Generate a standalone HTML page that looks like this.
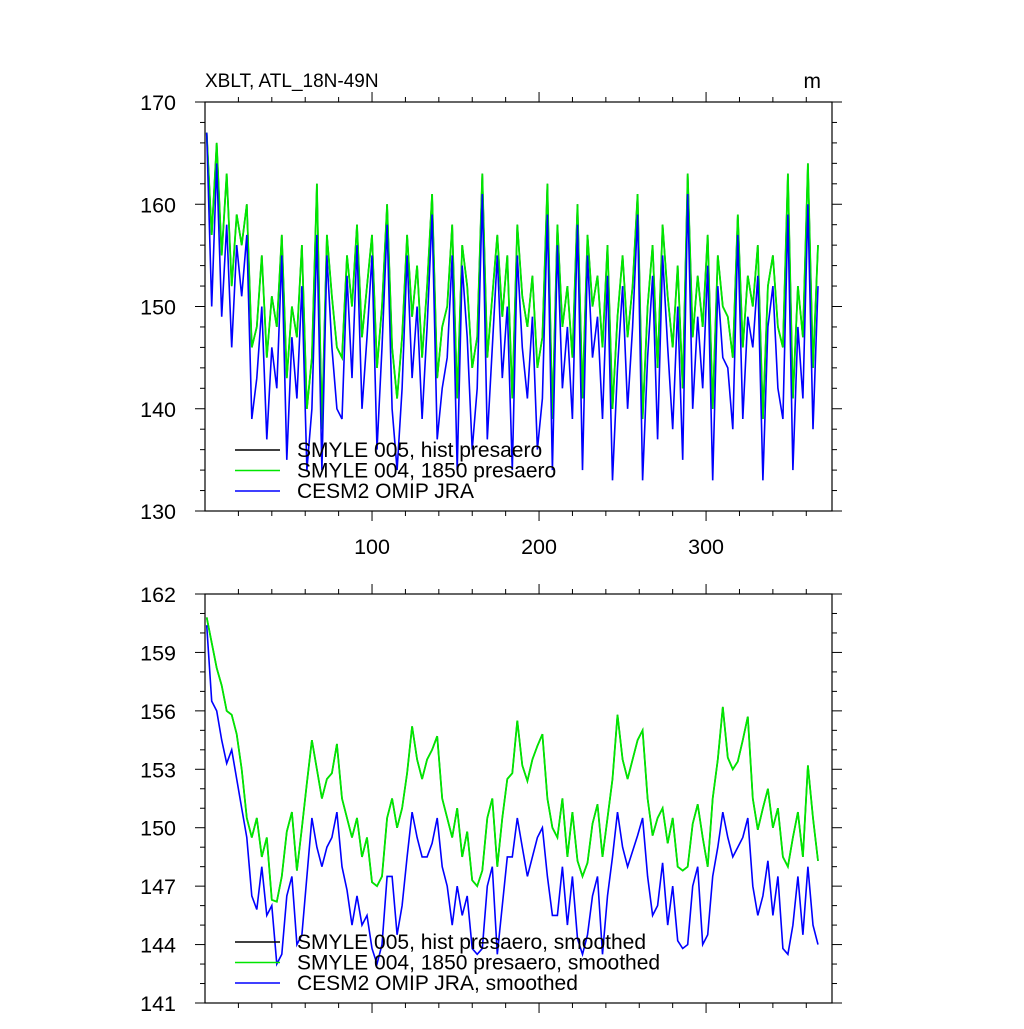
<!DOCTYPE html>
<html><head><meta charset="utf-8"><style>
body{margin:0;background:#fff}
svg text{font-family:"Liberation Sans",sans-serif;fill:#000}
</style></head><body>
<svg id="c" width="1024" height="1024" viewBox="0 0 1024 1024"></svg>
<script>
const xTicks=[100,200,300];
const topYTicks=[130,140,150,160,170];
const botYTicks=[141,144,147,150,153,156,159,162];
const topGreen=[167,157,166,155,163,152,159,156,160,146,148,155,145,151,148,157,143,150,147,156,140,145,162,138,157,151,146,145,155,150,158,147,152,157,144,150,160,146,141,147,157,149,154,145,152,161,143,148,150,158,141,156,152,144,147,163,145,151,157,149,155,141,158,151,148,153,144,147,162,139,158,148,152,145,160,141,157,150,153,146,156,140,149,155,147,152,161,139,150,156,144,158,151,146,154,142,163,147,153,148,157,140,155,150,149,145,159,146,153,150,156,139,152,155,148,146,163,141,152,147,164,144,156];
const topBlue=[167,150,164,149,158,146,156,151,157,139,143,150,137,146,142,155,135,147,141,152,134,140,157,134,155,146,140,139,153,143,156,140,147,155,136,146,158,140,134,142,155,143,150,139,148,159,137,142,145,155,134,154,147,136,142,161,137,146,155,143,150,134,155,146,141,149,136,141,159,134,156,142,148,139,158,134,155,145,149,139,153,133,144,152,140,148,159,133,145,153,137,155,146,138,150,135,161,140,149,142,154,133,152,145,144,138,157,139,149,146,153,133,148,152,142,139,159,134,148,141,160,138,152];
const botGreen=[160.8,159.5,158.2,157.3,156,155.8,154.8,153,150.5,149.5,150.5,148.5,149.5,146.3,146.2,147.5,149.8,150.8,147.8,150,152.3,154.5,153,151.5,152.5,152.8,154.3,151.5,150.5,149.5,150.5,148.5,149.5,147.2,147,147.5,150.5,151.5,150,151,152.8,155.2,153.5,152.5,153.5,154,154.7,151.5,150.5,149.5,151,148.5,149.8,147.3,147,147.8,150.5,151.5,148,150.5,152.5,152.8,155.5,153.2,152.4,153.5,154.2,154.8,151.5,150,149.5,151.5,148.5,150.8,148.3,147.5,148.2,150.2,151.2,148.5,150.5,152.5,155.8,153.5,152.5,153.5,154.5,155,151.5,149.6,150.5,151,149.2,150.5,148,147.8,148,150.2,151.2,149.5,148,151.5,153.5,156.2,153.6,153,153.4,154.5,155.7,151.5,149.9,151,152,150,151,148.5,148,149.5,150.8,148.5,153.2,150.5,148.3];
const botBlue=[160.4,156.5,156,154.5,153.3,154,152.5,151,149.5,146.5,145.8,148,145.5,146,143,143.5,146.5,147.5,144,144.5,147.5,150.5,149,148,149,149.5,150.8,148,146.8,145,146.5,145,145.5,143.8,143,144,147.5,147.5,144.5,146,148.5,150.8,149.5,148.5,148.5,149.2,150.5,148,147,145,147,145.5,146.5,143.8,143.5,143.8,147,148,143.5,146,148.5,148.5,150.5,149,147.5,148.5,149.5,150,147.5,145.5,145.5,148,145,147.5,144.3,143.5,144.5,146.5,147.5,143.5,146.5,148.5,150.8,149,148,148.8,149.6,150.5,147.5,145.5,146,148.2,145,147,144.2,143.8,144,147,148,144,144.5,147.5,149,150.8,149.5,148.5,149,149.5,150.5,147,145.5,146.5,148.3,145.5,147.5,143.8,143.5,145,147.5,144.5,148,145,144];
const xStart=1, xStep=3;

const svg=document.getElementById('c');
const NS='http://www.w3.org/2000/svg';
function mk(tag,attrs,parent){const e=document.createElementNS(NS,tag);for(const k in attrs)e.setAttribute(k,attrs[k]);(parent||svg).appendChild(e);return e;}
const L=205,R=832;
const xs=v=>L+(v-0)*(R-L)/375.4;

function panel(name,top,bot,ymin,ymax,yTicks,yMinor,showX,green,blue,legendY,suffix){
  const g=mk('g',{});
  
  
  const ys=v=>bot-(v-ymin)*(bot-top)/(ymax-ymin);
  for(let v=20;v<375;v+=20){const px=xs(v);const len=(v%100===0)?10:5;
    mk('line',{x1:px,x2:px,y1:top,y2:top-len,stroke:'#000','stroke-width':1},g);
    mk('line',{x1:px,x2:px,y1:bot,y2:bot+len,stroke:'#000','stroke-width':1},g);}
  for(let v=ymin;v<=ymax+1e-6;v+=yMinor){const py=ys(v);const maj=yTicks.some(t=>Math.abs(t-v)<1e-6);const len=maj?10:5;
    mk('line',{x1:L,x2:L-len,y1:py,y2:py,stroke:'#000','stroke-width':1},g);
    mk('line',{x1:R,x2:R+len,y1:py,y2:py,stroke:'#000','stroke-width':1},g);}
  yTicks.forEach(t=>{const e=mk('text',{x:L-29,y:ys(t)+8,'text-anchor':'end','font-size':21.5},g);e.textContent=t;
    
    });
  if(showX) xTicks.forEach(t=>{const e=mk('text',{x:xs(t),y:bot+43,'text-anchor':'middle','font-size':21.5},g);e.textContent=t;
    
    });
  const pts=a=>a.map((v,i)=>xs(xStart+i*xStep).toFixed(1)+','+ys(v).toFixed(1)).join(' ');
  const b=mk('polyline',{points:pts(green),fill:'none',stroke:'#000','stroke-width':1.5},g);
  
  
  const gr=mk('polyline',{points:pts(green),fill:'none',stroke:'#00e600','stroke-width':1.8},g);
  
  
  const bl=mk('polyline',{points:pts(blue),fill:'none',stroke:'#0000ff','stroke-width':1.6},g);
  
  
  mk('rect',{x:L,y:top,width:R-L,height:bot-top,fill:'none',stroke:'#000','stroke-width':1.2},g);
  const labels=['SMYLE 005, hist presaero','SMYLE 004, 1850 presaero','CESM2 OMIP JRA'];
  const cols=['#000','#00e600','#0000ff'];
  labels.forEach((t,i)=>{const yy=legendY+i*20.5;
    const ln=mk('line',{x1:235,x2:280,y1:yy,y2:yy,stroke:cols[i],'stroke-width':1.6},g);
    
    
    const tx=mk('text',{x:297,y:yy+7,'font-size':21},g);tx.textContent=t+suffix;
    
    });
}
panel('top-panel',102,511,130,170,topYTicks,2,true,topGreen,topBlue,450,'');
panel('bottom-panel',594,1003,141,162,botYTicks,1,false,botGreen,botBlue,942,', smoothed');
const t1=mk('text',{x:205,y:87,'font-size':19});t1.textContent='XBLT, ATL_18N-49N';


const t2=mk('text',{x:821,y:88,'font-size':21,'text-anchor':'end'});t2.textContent='m';


</script>
</body></html>
